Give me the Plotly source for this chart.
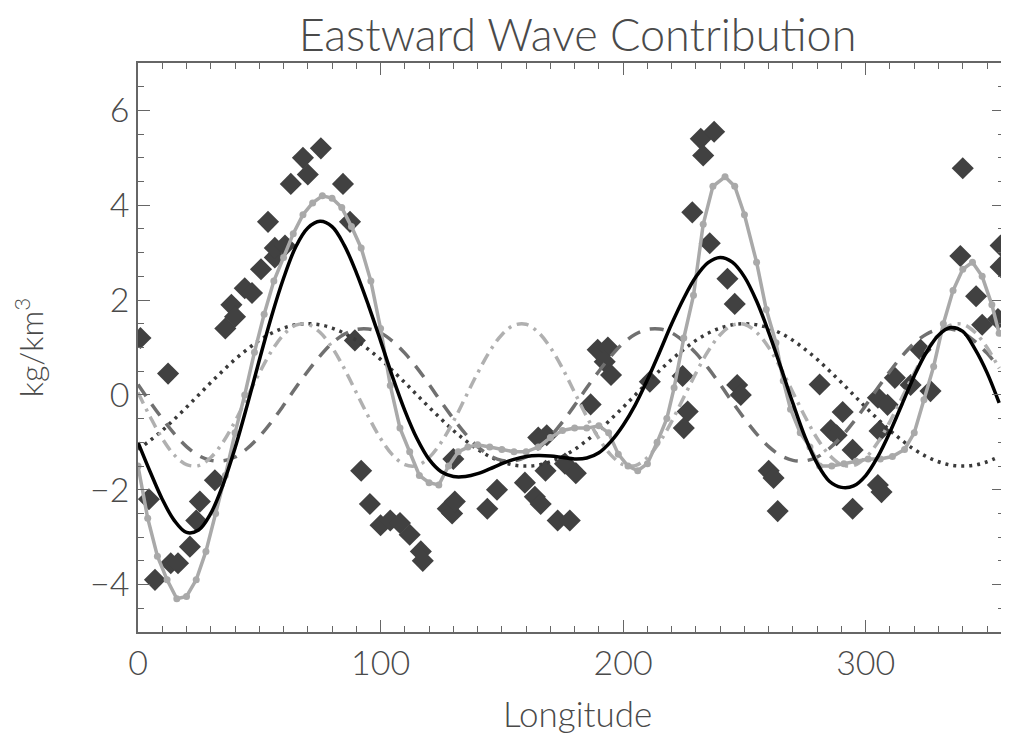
import plotly.graph_objects as go

# longitude grid for the fitted curves (every 5 degrees)
lon_fit = list(range(0, 360, 5))

wave2 = [-1.15, -0.96, -0.75, -0.51, -0.26, 0.00, 0.26, 0.51, 0.75, 0.96, 1.15, 1.30,
         1.41, 1.48, 1.50, 1.48, 1.41, 1.30, 1.15, 0.96, 0.75, 0.51, 0.26, 0.00,
         -0.26, -0.51, -0.75, -0.96, -1.15, -1.30, -1.41, -1.48, -1.50, -1.48, -1.41, -1.30,
         -1.15, -0.96, -0.75, -0.51, -0.26, 0.00, 0.26, 0.51, 0.75, 0.96, 1.15, 1.30,
         1.41, 1.48, 1.50, 1.48, 1.41, 1.30, 1.15, 0.96, 0.75, 0.51, 0.26, 0.00,
         -0.26, -0.51, -0.75, -0.96, -1.15, -1.30, -1.41, -1.48, -1.50, -1.48, -1.41, -1.30]

wave3 = [0.22, -0.15, -0.50, -0.82, -1.09, -1.28, -1.38, -1.39, -1.31, -1.13, -0.88, -0.57,
         -0.22, 0.15, 0.50, 0.82, 1.09, 1.28, 1.38, 1.39, 1.31, 1.13, 0.88, 0.57,
         0.22, -0.15, -0.50, -0.82, -1.09, -1.28, -1.38, -1.39, -1.31, -1.13, -0.88, -0.57,
         -0.22, 0.15, 0.50, 0.82, 1.09, 1.28, 1.38, 1.39, 1.31, 1.13, 0.88, 0.57,
         0.22, -0.15, -0.50, -0.82, -1.09, -1.28, -1.38, -1.39, -1.31, -1.13, -0.88, -0.57,
         -0.22, 0.15, 0.50, 0.82, 1.09, 1.28, 1.38, 1.39, 1.31, 1.13, 0.88, 0.57]

wave4 = [0.05, -0.46, -0.92, -1.27, -1.47, -1.49, -1.32, -1.00, -0.56, -0.05, 0.46, 0.92,
         1.27, 1.47, 1.49, 1.32, 1.00, 0.56, 0.05, -0.46, -0.92, -1.27, -1.47, -1.49,
         -1.32, -1.00, -0.56, -0.05, 0.46, 0.92, 1.27, 1.47, 1.49, 1.32, 1.00, 0.56,
         0.05, -0.46, -0.92, -1.27, -1.47, -1.49, -1.32, -1.00, -0.56, -0.05, 0.46, 0.92,
         1.27, 1.47, 1.49, 1.32, 1.00, 0.56, 0.05, -0.46, -0.92, -1.27, -1.47, -1.49,
         -1.32, -1.00, -0.56, -0.05, 0.46, 0.92, 1.27, 1.47, 1.49, 1.32, 1.00, 0.56]

total = [-1.0, -1.62, -2.2, -2.65, -2.9, -2.85, -2.5, -1.9, -1.12, -0.22, 0.73, 1.65,
         2.46, 3.12, 3.52, 3.66, 3.55, 3.16, 2.58, 1.89, 1.14, 0.37, -0.33, -0.92,
         -1.36, -1.62, -1.72, -1.72, -1.66, -1.56, -1.45, -1.36, -1.30, -1.28, -1.29, -1.32,
         -1.35, -1.33, -1.22, -0.98, -0.64, -0.21, 0.32, 0.90, 1.50, 2.04, 2.49, 2.79,
         2.90, 2.80, 2.49, 1.98, 1.32, 0.58, -0.18, -0.89, -1.45, -1.82, -1.95, -1.92,
         -1.70, -1.30, -0.78, -0.19, 0.40, 0.90, 1.26, 1.42, 1.34, 0.97, 0.47, -0.17]

# higher order fit (grey line with dots)
lon_hi = [0, 4, 8, 12, 16, 20, 24, 28, 32, 36, 40, 44, 48, 52, 56, 60, 64, 68, 72, 76,
          80, 84, 88, 92, 96, 100, 104, 108, 112, 116, 120, 124, 128, 132, 136, 140, 145,
          150, 155, 160, 165, 170, 175, 180, 185, 190, 194, 198, 202, 206, 210, 214, 218,
          221, 225, 229, 233, 237, 242, 246, 250, 255, 259, 263, 266, 269, 273, 277, 281,
          286, 291, 296, 301, 306, 311, 316, 320, 324, 328, 332, 336, 340, 344, 348, 352, 355]
val_hi = [-1.5, -2.6, -3.4, -3.9, -4.3, -4.25, -3.9, -3.3, -2.5, -1.7, -0.8, 0.0, 0.9, 1.7,
          2.4, 2.9, 3.4, 3.8, 4.05, 4.2, 4.15, 3.95, 3.55, 3.1, 2.4, 1.4, 0.2, -0.7, -1.2,
          -1.7, -1.85, -1.9, -1.5, -1.2, -1.1, -1.05, -1.1, -1.15, -1.2, -1.2, -1.1, -0.9,
          -0.75, -0.7, -0.7, -0.65, -0.8, -1.25, -1.5, -1.6, -1.45, -1.0, -0.5, 0.15, 1.2,
          2.1, 3.6, 4.4, 4.6, 4.4, 3.8, 2.8, 1.8, 1.1, 0.3, -0.3, -0.8, -1.1, -1.5, -1.5,
          -1.45, -1.4, -1.35, -1.35, -1.3, -1.15, -0.8, -0.1, 0.6, 1.5, 2.2, 2.65, 2.8, 2.5,
          1.9, 1.3]

# observations
obs_lon = [1, 4.5, 7, 12.4, 13.5, 16.5, 21.4, 24, 25.5, 31.7, 36, 38.5, 40, 44, 47, 50.7,
           53.6, 56.4, 56.4, 60.6, 63, 68, 70, 75.4, 84.5, 87.4, 89.4, 92, 95.6, 100, 104,
           108, 112, 116.6, 117.4, 127.7, 129.5, 130.6, 130, 144, 148, 159.5, 163.6, 166,
           165, 168.5, 168, 173, 176, 178, 180.5, 186.6, 189.5, 193.7, 192.4, 195, 211,
           224.5, 226.6, 225, 228.5, 232, 237.5, 233, 235.7, 243, 246, 247, 248.5, 260, 262,
           263.7, 281, 285.6, 288, 290.5, 294.6, 294.6, 305, 309, 305.7, 305, 306.5, 312,
           318.5, 326.7, 322.6, 339, 340, 345.5, 348, 354.5, 355.6, 355.6]
obs_val = [1.2, -2.2, -3.9, 0.45, -3.55, -3.55, -3.2, -2.65, -2.25, -1.8, 1.4, 1.9, 1.65,
           2.25, 2.15, 2.65, 3.65, 2.9, 3.1, 3.15, 4.45, 5.0, 4.65, 5.2, 4.45, 3.65, 1.15,
           -1.6, -2.3, -2.75, -2.65, -2.7, -2.95, -3.3, -3.5, -2.4, -2.5, -2.25, -1.35, -2.4,
           -2.0, -1.85, -2.15, -2.3, -0.9, -0.85, -1.6, -2.65, -1.45, -2.65, -1.65, -0.2,
           0.95, 1.0, 0.7, 0.42, 0.28, 0.4, -0.35, -0.7, 3.85, 5.4, 5.55, 5.05, 3.2, 2.45,
           1.92, 0.21, 0.0, -1.6, -1.75, -2.45, 0.22, -0.74, -0.85, -0.36, -1.16, -2.4, -0.06,
           -0.21, -0.76, -1.9, -2.05, 0.36, 0.21, 0.08, 0.95, 2.93, 4.78, 2.08, 1.48, 1.6,
           3.15, 2.7]

FONT = 'Lato'
TXT = '#4a4a4a'

fig = go.Figure()
fig.add_trace(go.Scatter(x=obs_lon, y=obs_val, mode='markers',
                         marker=dict(symbol='diamond', size=17, color='#414141')))
fig.add_trace(go.Scatter(x=lon_fit, y=wave2, mode='lines', line_shape='spline',
                         line=dict(color='#3a3a3a', width=3.5, dash='3px,5px')))
fig.add_trace(go.Scatter(x=lon_fit, y=wave3, mode='lines', line_shape='spline',
                         line=dict(color='#707070', width=3.5, dash='14px,10px')))
fig.add_trace(go.Scatter(x=lon_fit, y=wave4, mode='lines', line_shape='spline',
                         line=dict(color='#b0b0b0', width=3.5, dash='12px,6px,3px,6px')))
fig.add_trace(go.Scatter(x=lon_hi, y=val_hi, mode='lines+markers',
                         line=dict(color='#a9a9a9', width=3.5),
                         marker=dict(size=7, color='#a9a9a9')))
fig.add_trace(go.Scatter(x=lon_fit, y=total, mode='lines', line_shape='spline',
                         line=dict(color='#000000', width=3.5)))

axis_common = dict(showgrid=False, zeroline=False, showline=True, linecolor='#666',
                   linewidth=1.5, mirror='allticks', ticks='inside', tickcolor='#666',
                   tickwidth=1, automargin=False,
                   tickfont=dict(family=FONT, size=34, color=TXT, weight=300))

fig.update_xaxes(range=[0, 357], tick0=0, dtick=100, ticklen=12,
                 minor=dict(dtick=10, ticks='inside', ticklen=6, tickcolor='#666'),
                 **axis_common)
fig.update_yaxes(range=[-5, 7], tick0=0, dtick=2, ticklen=12,
                 minor=dict(dtick=0.5, ticks='inside', ticklen=6, tickcolor='#666'),
                 title=dict(text='kg/km<sup>3</sup>', font=dict(family=FONT, size=32, color=TXT, weight=300),
                            standoff=52),
                 **axis_common)

# x title as an annotation so it can sit a bit lower
fig.add_annotation(text='Longitude', xref='paper', yref='paper', x=0.508, y=-0.143,
                   xanchor='center', yanchor='middle', showarrow=False,
                   font=dict(family=FONT, size=35, color=TXT, weight=300))

# page body adds an 8px margin, so the figure is a little smaller than the window
fig.update_layout(width=1001, height=727, template='simple_white', showlegend=False,
                  paper_bgcolor='white', plot_bgcolor='white',
                  margin=dict(l=130, r=5, t=55, b=103, autoexpand=False),
                  title=dict(text='Eastward Wave Contribution', x=0.569, xanchor='center',
                             y=0.962, yanchor='middle', yref='container',
                             font=dict(family=FONT, size=45, color=TXT, weight=300)))

fig.write_html("out.html")
